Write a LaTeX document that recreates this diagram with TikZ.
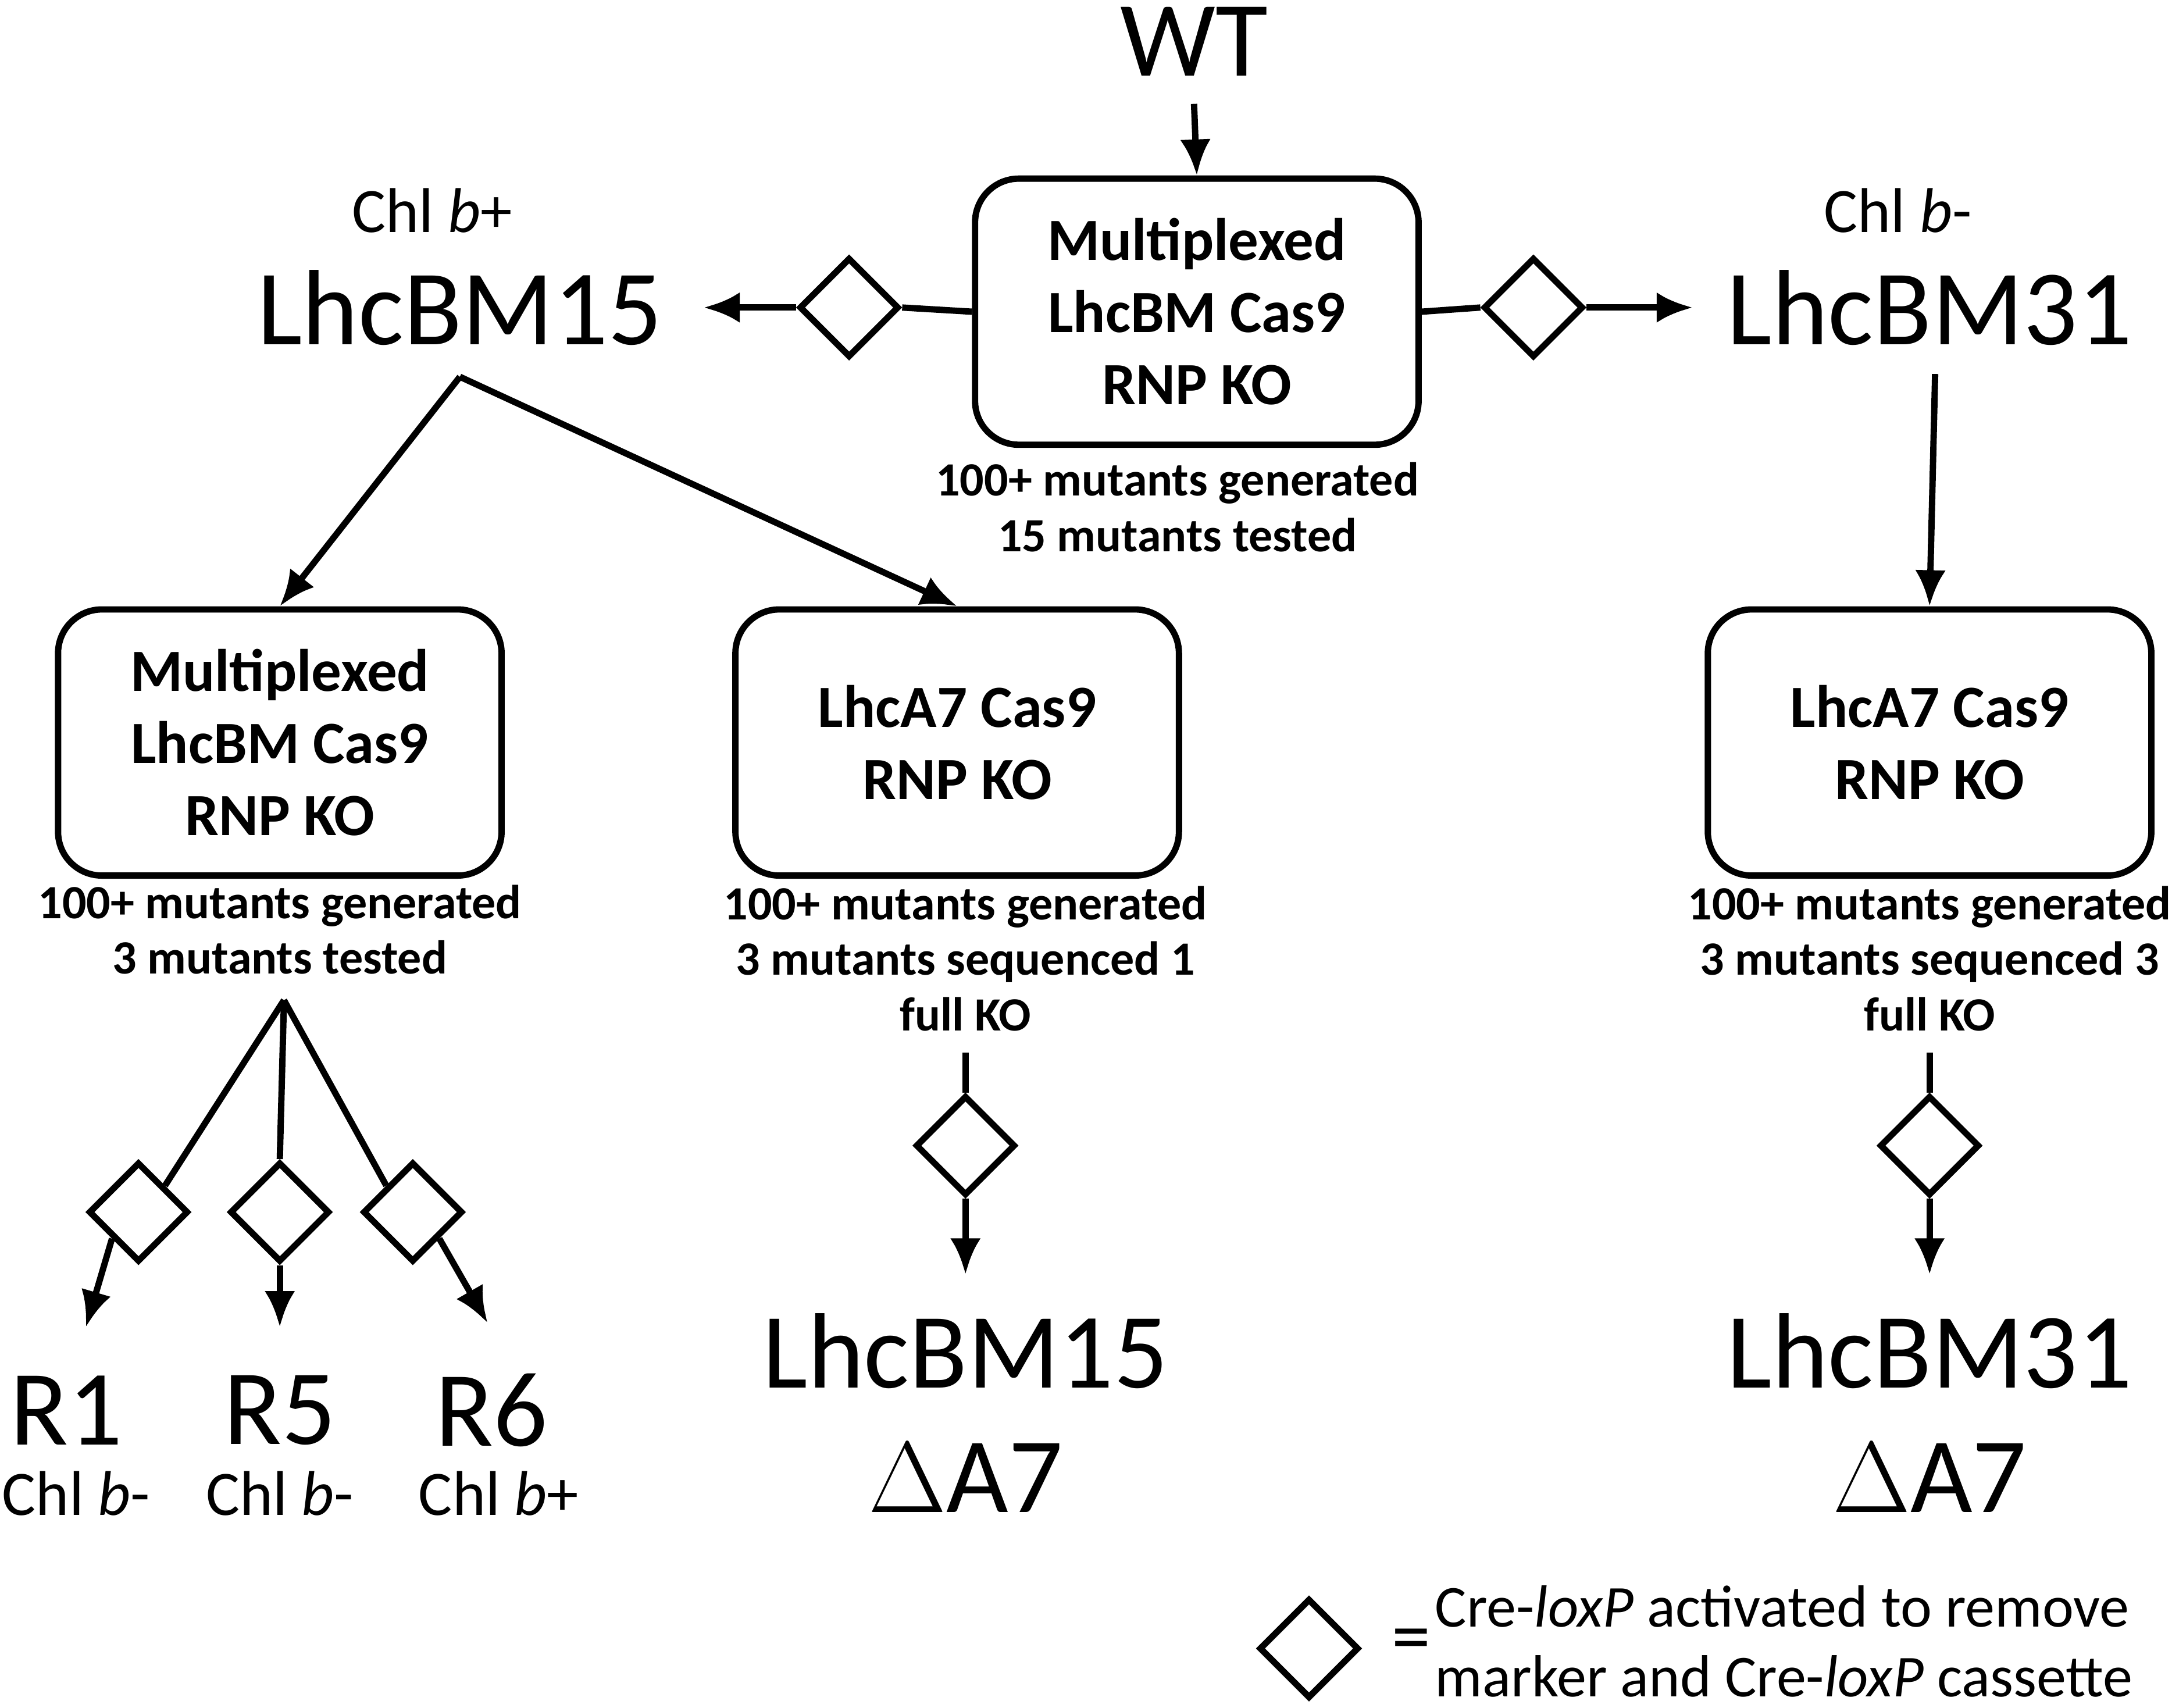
\documentclass[tikz,border=0pt]{standalone}
\usepackage{fontspec}
\setmainfont{Carlito}
\usetikzlibrary{positioning}
\usetikzlibrary{arrows.meta}
\usetikzlibrary{shapes.geometric}
\tikzset{
	box/.style={draw=black,line width=1.3pt,rounded corners=9pt,minimum width=3.2cm,minimum height=1.92cm,align=center,font=\fontsize{12.3}{14.8}\selectfont\bfseries},
	note/.style={align=center,font=\fontsize{9.8}{11.4}\selectfont\bfseries},
	big/.style={align=center,font=\fontsize{22}{25.6}\selectfont},
	small/.style={font=\fontsize{13}{15}\selectfont},
	dia/.style={draw=black,diamond,line width=1.3pt,minimum width=0.72cm,minimum height=0.72cm,inner sep=0pt,fill=white},
	arr/.style={-{Latex[length=0.26cm,width=0.22cm]}},
}
\begin{document}
\begin{tikzpicture}[x=0.01cm,y=-0.01cm,line width=1.3pt]
	\useasboundingbox (0,0) rectangle (1568,1233);
	\node [big] at (862,30) (wt) {WT};
	\node [box] at (864,225) (top) {Multiplexed\\LhcBM Cas9\\RNP KO};
	\node [note] at (850,366) (top_n) {100+ mutants generated\\15 mutants tested};

	\node [small] at (312,152) (lb) {Chl \textit{b}+};
	\node [big] at (332,222) (l15) {LhcBM15};
	\node [small] at (1370,152) (rb) {Chl \textit{b}-};
	\node [big] at (1393,222) (r31) {LhcBM31};
	\node [dia] at (613,222) (d_l) {};
	\node [dia] at (1107,222) (d_r) {};

	\node [box] at (202,536) (b1) {Multiplexed\\LhcBM Cas9\\RNP KO};
	\node [note] at (202,671) (b1_n) {100+ mutants generated\\3 mutants tested};
	\node [box] at (691,536) (b2) {LhcA7 Cas9\\RNP KO};
	\node [note] at (697,692) (b2_n) {100+ mutants generated\\3 mutants sequenced 1\\full KO};
	\node [box] at (1393,536) (b3) {LhcA7 Cas9\\RNP KO};
	\node [note] at (1393,692) (b3_n) {100+ mutants generated\\3 mutants sequenced 3\\full KO};

	\coordinate (s1) at (205,722);
	\node [dia] at (100,875) (d1) {};
	\node [dia] at (202,875) (d5) {};
	\node [dia] at (298,875) (d6) {};
	\node [big] at (48,1018) (r1) {R1};
	\node [small] at (55,1078) (r1_c) {Chl \textit{b}-};
	\node [big] at (202,1018) (r5) {R5};
	\node [small] at (202,1078) (r5_c) {Chl \textit{b}-};
	\node [big] at (355,1018) (r6) {R6};
	\node [small] at (360,1078) (r6_c) {Chl \textit{b}+};

	\node [dia] at (697,827) (d_m) {};
	\node [big] at (697,1020) (m_res) {LhcBM15\\$\Delta$A7};
	\node [dia] at (1393,827) (d_rr) {};
	\node [big] at (1393,1020) (r_res) {LhcBM31\\$\Delta$A7};

	\node [dia] at (945,1190) (leg) {};
	\node [font=\fontsize{16}{16}\selectfont] at (1019,1188) (eq) {=};
	\node [align=left,font=\fontsize{12.2}{14.3}\selectfont,anchor=west] at (1022,1185) (leg_t) {Cre-\textit{loxP} activated to remove\\marker and Cre-\textit{loxP} cassette};

	\draw [arr] (862,75) -- (top.north);
	\draw (top.west) -- (d_l.east);
	\draw [arr] (d_l.west) -- (508,222);
	\draw (top.east) -- (d_r.west);
	\draw [arr] (d_r.east) -- (1222,222);
	\draw [arr] (332,272) -- (b1.north);
	\draw [arr] (332,272) -- (b2.north);
	\draw [arr] (1397,270) -- (b3.north);
	\draw (s1) -- (d1.north east);
	\draw (s1) -- (d5.north);
	\draw (s1) -- (d6.north west);
	\draw [arr] (d1.south west) -- (62,958);
	\draw [arr] (d5.south) -- (202,958);
	\draw [arr] (d6.south east) -- (352,955);
	\draw (697,760) -- (d_m.north);
	\draw [arr] (d_m.south) -- (697,920);
	\draw (1393,760) -- (d_rr.north);
	\draw [arr] (d_rr.south) -- (1393,920);
\end{tikzpicture}
\end{document}
